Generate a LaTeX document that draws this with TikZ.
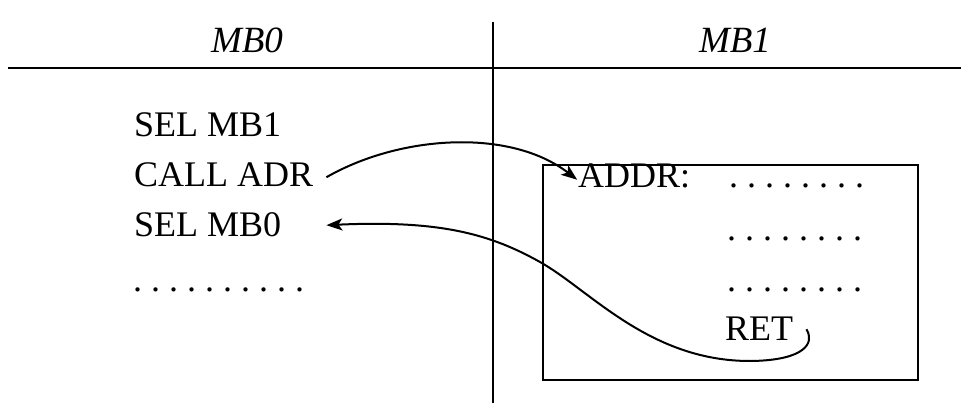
\documentclass[tikz,border=0pt]{standalone}
\usepackage{fontspec}
\setmainfont{Liberation Serif}
\usetikzlibrary{arrows.meta}

\begin{document}
\frenchspacing
\begin{tikzpicture}[
    x=1pt,y=-1pt,
    code/.style={anchor=base west,inner sep=0pt,font=\fontsize{36}{40}\selectfont},
    head/.style={anchor=base,inner sep=0pt,font=\fontsize{37}{40}\selectfont\itshape},
    frame/.style={draw,line width=1.8pt,minimum width=375pt,minimum height=215pt,inner sep=0pt},
    rule/.style={line width=2.5pt},
    arrow/.style={-{Stealth[length=16pt,width=12pt,inset=4pt]},line width=2pt}
  ]
    \useasboundingbox (0,0) rectangle (961,403);

    % bank headers and dividers
    \node[head] (mb0) at (247,53) {MB0};
    \node[head] (mb1) at (735,53) {MB1};
    \draw[rule] (8,68) -- (961,68);
    \draw[line width=2.2pt] (493,22) -- (493,403);

    % bank 0
    \node[code] (selone) at (134,137) {SEL MB1};
    \node[code] (call) at (134,187) {CALL ADR};
    \node[code] (selzero) at (134,237) {SEL MB0};
    \node[code] (dotsl) at (133,292) {. . . . . . . . . .};
    \coordinate (back) at ([xshift=13pt]call.east |- selzero.east);

    % bank 1
    \node[frame] (sub) at (730.5,272.5) {};
    \node[code] (addr) at (578,188) {ADDR:};
    \node[code] (dotsa) at (729,188) {. . . . . . . .};
    \node[code] (dotsb) at (727,241) {. . . . . . . .};
    \node[code] (dotsc) at (727,292) {. . . . . . . .};
    \node[code] (ret) at (725,341) {RET};

    \draw[arrow,shorten >=1pt] ([xshift=13pt,yshift=-2pt]call.east) .. controls (400,135) and (510,128) .. ([yshift=-4pt]addr.west);
    \draw[arrow] ([xshift=13pt]ret.east) .. controls (815,343) and (805,360) .. (752,361)
      .. controls (650,362) and (590,290) .. (540,262)
      .. controls (490,234) and (440,220) .. (back);
  \end{tikzpicture}
\end{document}
